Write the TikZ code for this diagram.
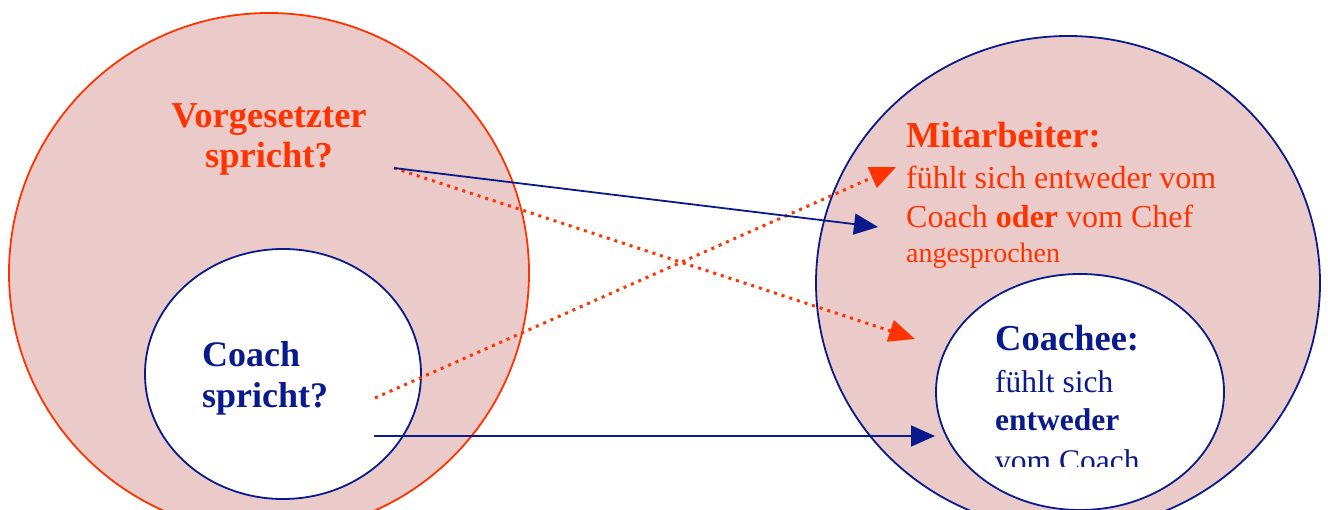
\documentclass[tikz,border=0pt]{standalone}
\usepackage{fontspec}
\setmainfont{Liberation Serif}
\usetikzlibrary{arrows.meta,shapes.geometric}
\definecolor{pinkfill}{RGB}{235,202,202}
\definecolor{cred}{RGB}{255,51,0}
\definecolor{cblue}{RGB}{8,26,140}
\begin{document}
\begin{tikzpicture}[x=1pt,y=-1pt,
  blob/.style={ellipse, inner sep=0pt, line width=1.8pt},
  outerred/.style={blob, draw=cred, fill=pinkfill},
  outerblue/.style={blob, draw=cblue, fill=pinkfill},
  innerblue/.style={blob, draw=cblue, fill=white},
  txt/.style={inner sep=0pt, anchor=base west},
  txtc/.style={inner sep=0pt, anchor=base},
  bluearrow/.style={draw=cblue, line width=1.8pt, -{Triangle[length=24pt,width=21pt]}},
  redarrow/.style={draw=cred, line width=3pt, dash pattern=on 3pt off 5pt, -{Triangle[length=26pt,width=22pt]}},
  bigb/.style={font=\fontsize{36.5}{40}\selectfont\bfseries},
  midr/.style={font=\fontsize{32}{36}\selectfont},
  smr/.style={font=\fontsize{28}{32}\selectfont}
]
\clip (0,0) rectangle (1328,510);

% circles
\node[outerred, minimum width=520pt, minimum height=520pt] (vorg) at (269,273) {};
\node[innerblue, minimum width=276pt, minimum height=250pt] (coach) at (283,374) {};
\node[outerblue, minimum width=504pt, minimum height=494pt] (mitarb) at (1068,283) {};
\node[innerblue, minimum width=288pt, minimum height=236pt] (coachee) at (1080,392) {};

% left texts
\node[txtc, bigb, text=cred] (t1) at (269,128) {Vorgesetzter};
\node[txtc, bigb, text=cred] (t2) at (269,168) {spricht?};
\node[txt, font=\fontsize{36}{40}\selectfont\bfseries, text=cblue] (t3) at (202,367) {Coach};
\node[txt, font=\fontsize{36}{40}\selectfont\bfseries, text=cblue] (t4) at (202,408) {spricht?};

% right texts
\node[txt, bigb, text=cred] (m1) at (906,148) {Mitarbeiter:};
\node[txt, midr, text=cred] (m2) at (906,189) {fühlt sich entweder vom};
\node[txt, midr, text=cred] (m3) at (906,228) {Coach \textbf{oder} vom Chef};
\node[txt, smr, text=cred] (m4) at (906,263) {angesprochen};

\node[txt, bigb, text=cblue] (c1) at (995,351) {Coachee:};
\node[txt, font=\fontsize{31.5}{36}\selectfont, text=cblue] (c2) at (995,392) {fühlt sich};
\node[txt, font=\fontsize{31.5}{36}\selectfont\bfseries, text=cblue] (c3) at (995,431) {entweder};
\begin{scope}
\clip (900,300) rectangle (1250,466);
\node[txt, font=\fontsize{31.5}{36}\selectfont, text=cblue] (c4) at (995,471) {vom Coach};
\end{scope}

% connector ends
\coordinate (vs) at (394,168);
\coordinate (cs) at (375,398);
\coordinate (cs2) at (374,436);
\coordinate (me1) at (878,227);
\coordinate (me2) at (896,167);
\coordinate (ce1) at (915,339);
\coordinate (ce2) at (935,436);

\draw[redarrow] (vs) -- (ce1);
\draw[redarrow] (cs) -- (me2);
\draw[bluearrow] (vs) -- (me1);
\draw[bluearrow] (cs2) -- (ce2);
\end{tikzpicture}
\end{document}
